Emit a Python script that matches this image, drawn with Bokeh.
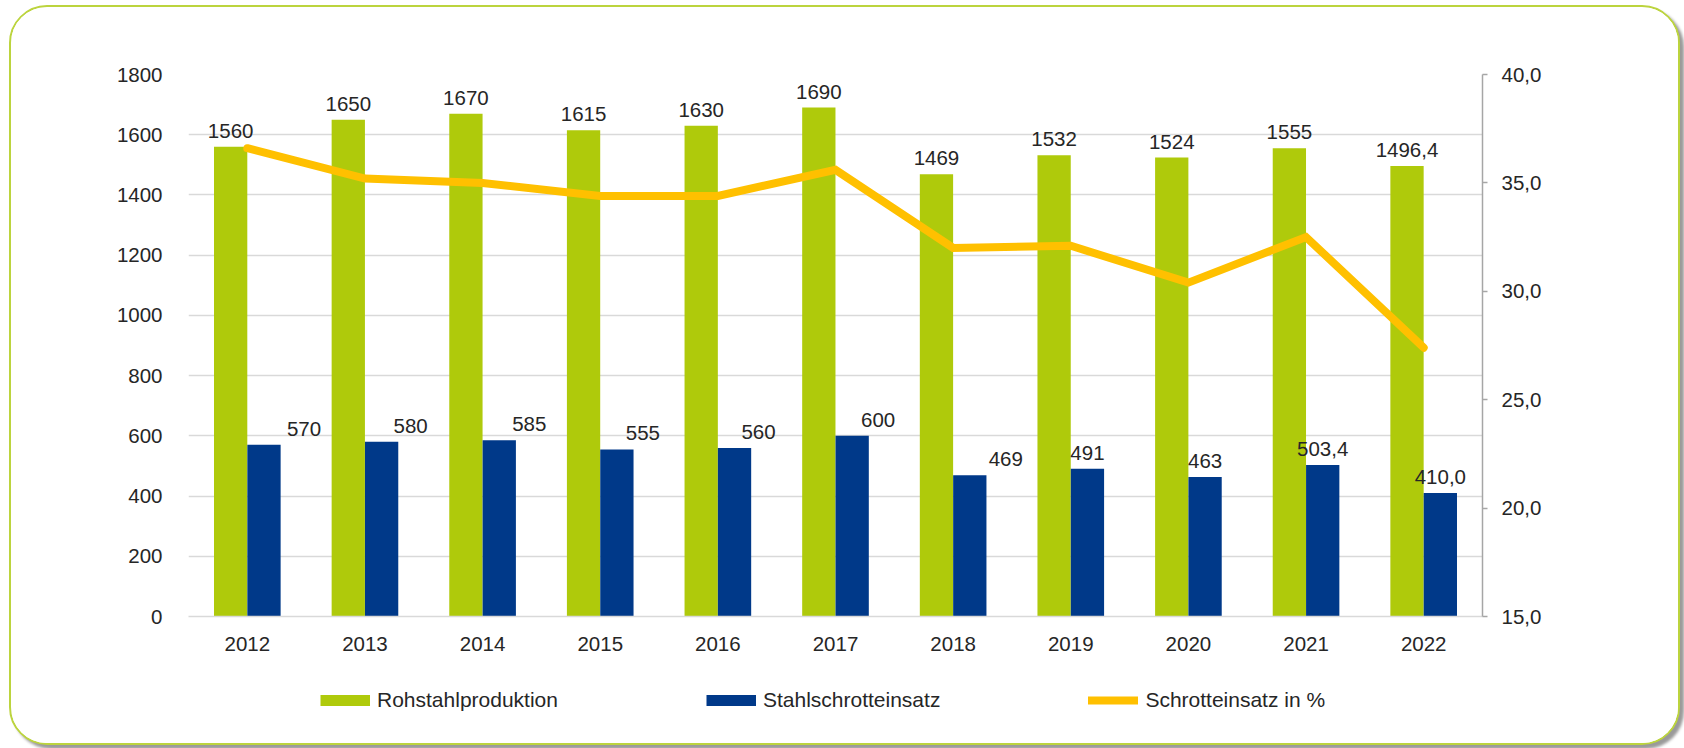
from bokeh.plotting import figure
from bokeh.layouts import column
from bokeh.models import (ColumnDataSource, Range1d, LinearAxis, FixedTicker,
                          CustomJSTickFormatter, Legend, LegendItem, FactorRange)
from bokeh.transform import dodge
from bokeh.core.properties import value
from bokeh.embed import file_html
from bokeh.resources import INLINE

# ---------------- data ----------------
years = ["2012", "2013", "2014", "2015", "2016", "2017", "2018", "2019", "2020", "2021", "2022"]
rohstahl = [1560, 1650, 1670, 1615, 1630, 1690, 1469, 1532, 1524, 1555, 1496.4]
schrott = [570, 580, 585, 555, 560, 600, 469, 491, 463, 503.4, 410.0]
schrott_pct = [36.6, 35.2, 35.0, 34.4, 34.4, 35.6, 32.0, 32.1, 30.4, 32.5, 27.4]
rohstahl_labels = ["1560", "1650", "1670", "1615", "1630", "1690", "1469", "1532", "1524", "1555", "1496,4"]
schrott_labels = ["570", "580", "585", "555", "560", "600", "469", "491", "463", "503,4", "410,0"]
left_ticks = [0, 200, 400, 600, 800, 1000, 1200, 1400, 1600, 1800]
right_ticks = [15, 20, 25, 30, 35, 40]
legend_labels = ["Rohstahlproduktion", "Stahlschrotteinsatz", "Schrotteinsatz in %"]

# ---------------- style ----------------
GREEN = "#AFCA0B"
BLUE = "#003989"
GOLD = "#FFC000"
GRID = "#D9D9D9"
TEXT = "#262626"
FONT = "Liberation Sans"
FS = "20.5px"
# manual horizontal shift (px) of the scrap-volume labels, as placed in the original
schrott_label_shift_px = [40, 29, 30, 26, 24, 26, 36, 0, 0, 0, 0]

src = ColumnDataSource(dict(year=years, roh=rohstahl, sch=schrott, pct=schrott_pct,
                            roh_lbl=rohstahl_labels, sch_lbl=schrott_labels,
                            sch_dx=schrott_label_shift_px))

p = figure(x_range=FactorRange(factors=years, range_padding=0),
           y_range=Range1d(0, 1800),
           frame_width=1294, frame_height=542, output_backend="svg", toolbar_location=None,
           min_border_left=177, min_border_right=196, min_border_top=67, min_border_bottom=60)
p.extra_y_ranges = {"pct": Range1d(15, 40)}
p.outline_line_color = None
p.background_fill_color = "white"
p.border_fill_color = "white"

# axes
ax = p.yaxis[0]
ax.ticker = FixedTicker(ticks=left_ticks)
ax.axis_line_color = None
ax.major_tick_line_color = None
ax.minor_tick_line_color = None
ax.major_label_standoff = 20
ax.major_label_text_font = FONT
ax.major_label_text_font_size = FS
ax.major_label_text_color = TEXT

axr = LinearAxis(y_range_name="pct", ticker=FixedTicker(ticks=right_ticks),
                 formatter=CustomJSTickFormatter(code="return tick.toFixed(1).replace('.', ',');"))
axr.axis_line_color = "#A6A6A6"
axr.axis_line_width = 1.5
axr.major_tick_line_color = "#A6A6A6"
axr.major_tick_line_width = 1.5
axr.major_tick_out = 5
axr.major_tick_in = 0
axr.minor_tick_line_color = None
axr.major_label_standoff = 14
axr.major_label_text_font = FONT
axr.major_label_text_font_size = FS
axr.major_label_text_color = TEXT
p.add_layout(axr, "right")

xa = p.xaxis[0]
xa.axis_line_color = GRID
xa.axis_line_width = 1.5
xa.major_tick_line_color = None
xa.minor_tick_line_color = None
xa.major_label_standoff = 14
xa.major_label_text_font = FONT
xa.major_label_text_font_size = FS
xa.major_label_text_color = TEXT

p.xgrid.grid_line_color = None
p.ygrid.ticker = FixedTicker(ticks=left_ticks)
p.ygrid.grid_line_color = GRID
p.ygrid.grid_line_width = 1.5

# glyphs
BAR_W = 0.283
OFF = 0.1417
p.vbar(x=dodge("year", -OFF, range=p.x_range), top="roh", width=BAR_W, source=src,
       fill_color=GREEN, line_color=None)
p.vbar(x=dodge("year", OFF, range=p.x_range), top="sch", width=BAR_W, source=src,
       fill_color=BLUE, line_color=None)
p.line(x="year", y="pct", y_range_name="pct", source=src, line_color=GOLD,
       line_width=8, line_cap="round", line_join="miter")

p.text(x=dodge("year", -OFF, range=p.x_range), y="roh", text="roh_lbl", source=src,
       text_align="center", text_baseline="alphabetic", y_offset=-16,
       text_font=value(FONT), text_font_size=FS, text_color=TEXT)
p.text(x=dodge("year", OFF, range=p.x_range), y="sch", text="sch_lbl", source=src,
       text_align="center", text_baseline="alphabetic", y_offset=-16, x_offset="sch_dx",
       text_font=value(FONT), text_font_size=FS, text_color=TEXT)

# ---------------- legend strip (separate small figure below the chart) ----------------
lf = figure(width=1667, height=67, output_backend="svg", toolbar_location=None,
            x_axis_type=None, y_axis_type=None, x_range=Range1d(0, 1), y_range=Range1d(0, 1),
            min_border=0, min_border_left=0, min_border_right=0,
            min_border_top=0, min_border_bottom=0)
lf.outline_line_color = None
lf.xgrid.grid_line_color = None
lf.ygrid.grid_line_color = None
lf.background_fill_color = "white"
lf.border_fill_color = "white"

nan = float("nan")
g_proxy = lf.line(x=[0], y=[nan], line_color=GREEN, line_width=11, line_cap="butt")
b_proxy = lf.line(x=[0], y=[nan], line_color=BLUE, line_width=11, line_cap="butt")
l_proxy = lf.line(x=[0], y=[nan], line_color=GOLD, line_width=8, line_cap="round")

legend = Legend(items=[LegendItem(label=legend_labels[0], renderers=[g_proxy]),
                       LegendItem(label=legend_labels[1], renderers=[b_proxy]),
                       LegendItem(label=legend_labels[2], renderers=[l_proxy])],
                location=(132, 31), orientation="horizontal",
                glyph_width=50, glyph_height=24, label_standoff=7,
                padding=0, margin=0, spacing=148,
                border_line_color=None, background_fill_alpha=0,
                label_text_font=FONT, label_text_font_size="21px", label_text_color=TEXT)
lf.add_layout(legend, "center")

layout = column(p, lf, spacing=0,
                styles={"margin-left": "9px", "margin-top": "5px",
                        "border": "2px solid #BCD43E", "border-radius": "38px",
                        "overflow": "hidden", "background-color": "white",
                        "box-shadow": "4px 4px 3px #9a9a9a"})

open("out.html", "w").write(file_html(layout, INLINE))
